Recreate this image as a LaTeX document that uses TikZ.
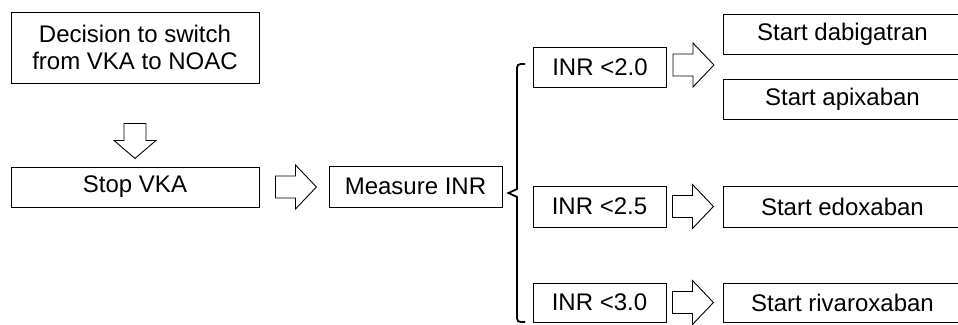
\documentclass[tikz,border=0pt]{standalone}
\usepackage{fontspec}
\setmainfont{Liberation Sans}
\usetikzlibrary{calc}
\tikzset{
  box/.style={draw, line width=0.9pt, inner sep=0pt, minimum height=40pt},
  inrbox/.style={box, minimum width=133pt},
  drug/.style={box, anchor=west, minimum width=238pt},
  rarrow/.pic={\draw [line width=0.9pt] (0,-11) -- (20,-11) -- (20,-22) --
    (41,0) -- (20,22) -- (20,11) -- (0,11) -- cycle;},
  darrow/.pic={\draw [line width=0.9pt] (-11,0) -- (-11,17) -- (-21,17) --
    (0,35) -- (21,17) -- (11,17) -- (11,0) -- cycle;},
  brace/.style={line width=1.8pt, line join=miter}
}
\begin{document}
\begin{tikzpicture}[x=1pt,y=-1pt,font=\fontsize{24}{27.5}\selectfont]
  \useasboundingbox (0,0) rectangle (958,324);
  % left column
  \node [box, minimum width=248pt, minimum height=71pt, align=center]
    (decision) at (135,47.5) {Decision to switch\\from VKA to NOAC};
  \node [box, minimum width=248pt] (stop) at (135,187) {Stop VKA};
  \node [box, minimum width=173pt, minimum height=41pt] (measure)
    at (415.5,186.5) {Measure INR};
  % INR thresholds
  \node [inrbox] (inra) at (600,67) {INR {<}2.0};
  \node [inrbox, minimum height=41pt] (inrb) at (599.5,206.5) {INR {<}2.5};
  \node [inrbox, minimum height=39pt] (inrc) at (599.5,302.5) {INR {<}3.0};
  % drugs
  \node [drug] (dabi) at (723,34) {Start dabigatran};
  \node [drug] (apix) at (723,99) {Start apixaban};
  \node [drug, minimum height=41pt] (edox) at (723,206.5) {Start edoxaban};
  \node [drug, minimum height=39pt] (riva) at (723,302.5) {Start rivaroxaban};
  % block arrows
  \pic at ($(decision.south)+(0,40)$) {darrow};
  \pic at ($(stop.east)+(16,0)$) {rarrow};
  \pic at ($(inra.east)+(6,-2)$) {rarrow};
  \pic at ($(inrb.east)+(6,0)$) {rarrow};
  \pic at ($(inrc.east)+(6,0)$) {rarrow};
  % brace
  \coordinate (btop) at (525,64); \coordinate (bbot) at (525,322);
  \coordinate (btip) at ($(measure.east)+(6,6.5)$);
  \draw [brace] (btop) .. controls (517,64) .. (517,72) -- (517,189) --
    (btip) -- (517,197) -- (517,314) .. controls (517,322) .. (bbot);
\end{tikzpicture}
\end{document}
